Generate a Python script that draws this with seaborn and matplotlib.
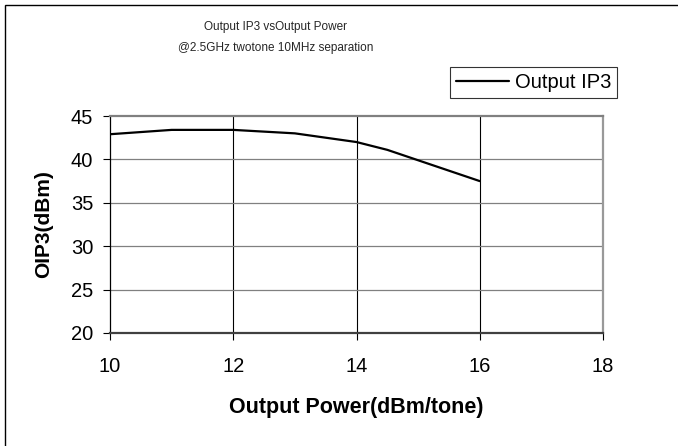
import matplotlib
matplotlib.use("Agg")
import matplotlib.pyplot as plt
import seaborn as sns
import pandas as pd
from matplotlib.patches import Rectangle

# Data
output_power = [10, 11, 12, 13, 14, 14.5, 15, 16]
oip3 = [42.9, 43.4, 43.4, 43.0, 42.0, 41.1, 39.9, 37.5]
series_name = "Output IP3"
x_ticks = [10, 12, 14, 16, 18]
y_ticks = [20, 25, 30, 35, 40, 45]
title_lines = ["Output IP3 vsOutput Power", "@2.5GHz twotone 10MHz separation"]
x_label = "Output Power(dBm/tone)"
y_label = "OIP3(dBm)"

sns.set_theme(style="white")
plt.rcParams['font.family'] = ['Liberation Sans', 'DejaVu Sans']

df = pd.DataFrame({"x": output_power, "y": oip3, "series": series_name})

W, H = 678, 446
fig = plt.figure(figsize=(W / 100, H / 100), dpi=100)
fig.patch.set_facecolor("white")

L, R, T, B = 110, 603, 116, 333
ax = fig.add_axes([L / W, 1 - B / H, (R - L) / W, (B - T) / H])

sns.lineplot(data=df, x="x", y="y", hue="series", palette=["black"],
             linewidth=1.6, ax=ax, legend=True)

ax.set_xlim(10, 18)
ax.set_ylim(20, 45)
ax.set_xticks(x_ticks)
ax.set_yticks(y_ticks)
ax.set_xticklabels([str(v) for v in x_ticks])
ax.set_yticklabels([str(v) for v in y_ticks])
ax.tick_params(axis="both", which="major", labelsize=14.5, length=5, width=0.8,
               color="black", direction="out", bottom=True, left=True,
               labelcolor="black")
ax.tick_params(axis="x", pad=12)
ax.tick_params(axis="y", pad=7)

# Gridlines: vertical black, horizontal gray
for xv in x_ticks[1:-1]:
    ax.axvline(xv, color="black", linewidth=0.8, zorder=0)
for yv in y_ticks[1:-1]:
    ax.axhline(yv, color="#808080", linewidth=0.9, zorder=0)

ax.spines["left"].set_color("black")
ax.spines["left"].set_linewidth(0.9)
ax.spines["bottom"].set_color("#404040")
ax.spines["bottom"].set_linewidth(1.6)
ax.spines["top"].set_color("#808080")
ax.spines["top"].set_linewidth(1.6)
ax.spines["right"].set_color("#999999")
ax.spines["right"].set_linewidth(1.6)
for s in ax.spines.values():
    s.set_visible(True)

ax.set_xlabel(x_label, fontsize=15.5, fontweight="bold", va="center", color="black")
ax.xaxis.set_label_coords(0.5, (B - 407) / (B - T))
ax.set_ylabel(y_label, fontsize=15, fontweight="bold", va="center", color="black")
ax.yaxis.set_label_coords((44 - L) / (R - L), 0.5)

# Legend
leg = ax.legend(loc="upper right", bbox_to_anchor=(617 / W, 1 - 67 / H),
                bbox_transform=fig.transFigure, borderaxespad=0,
                frameon=True, fancybox=False, fontsize=14.5, handlelength=2.6,
                handletextpad=0.3, borderpad=0.3)
leg.get_frame().set_edgecolor("black")
leg.get_frame().set_linewidth(0.8)
for line in leg.get_lines():
    line.set_linewidth(1.6)
for t in leg.get_texts():
    t.set_color("black")

# Title lines
fig.text(276 / W, 1 - 27 / H, title_lines[0], ha="center", va="center", fontsize=8.5)
fig.text(276 / W, 1 - 48 / H, title_lines[1], ha="center", va="center", fontsize=8.5)

# Outer chart border (cropped: only top and left visible)
fig.patches.append(Rectangle((4.5 / W, -0.1), 1.2, 1 - 5 / H + 0.1,
                             transform=fig.transFigure, fill=False,
                             edgecolor="black", linewidth=1.0))

fig.savefig("out.png", dpi=100, facecolor="white")
